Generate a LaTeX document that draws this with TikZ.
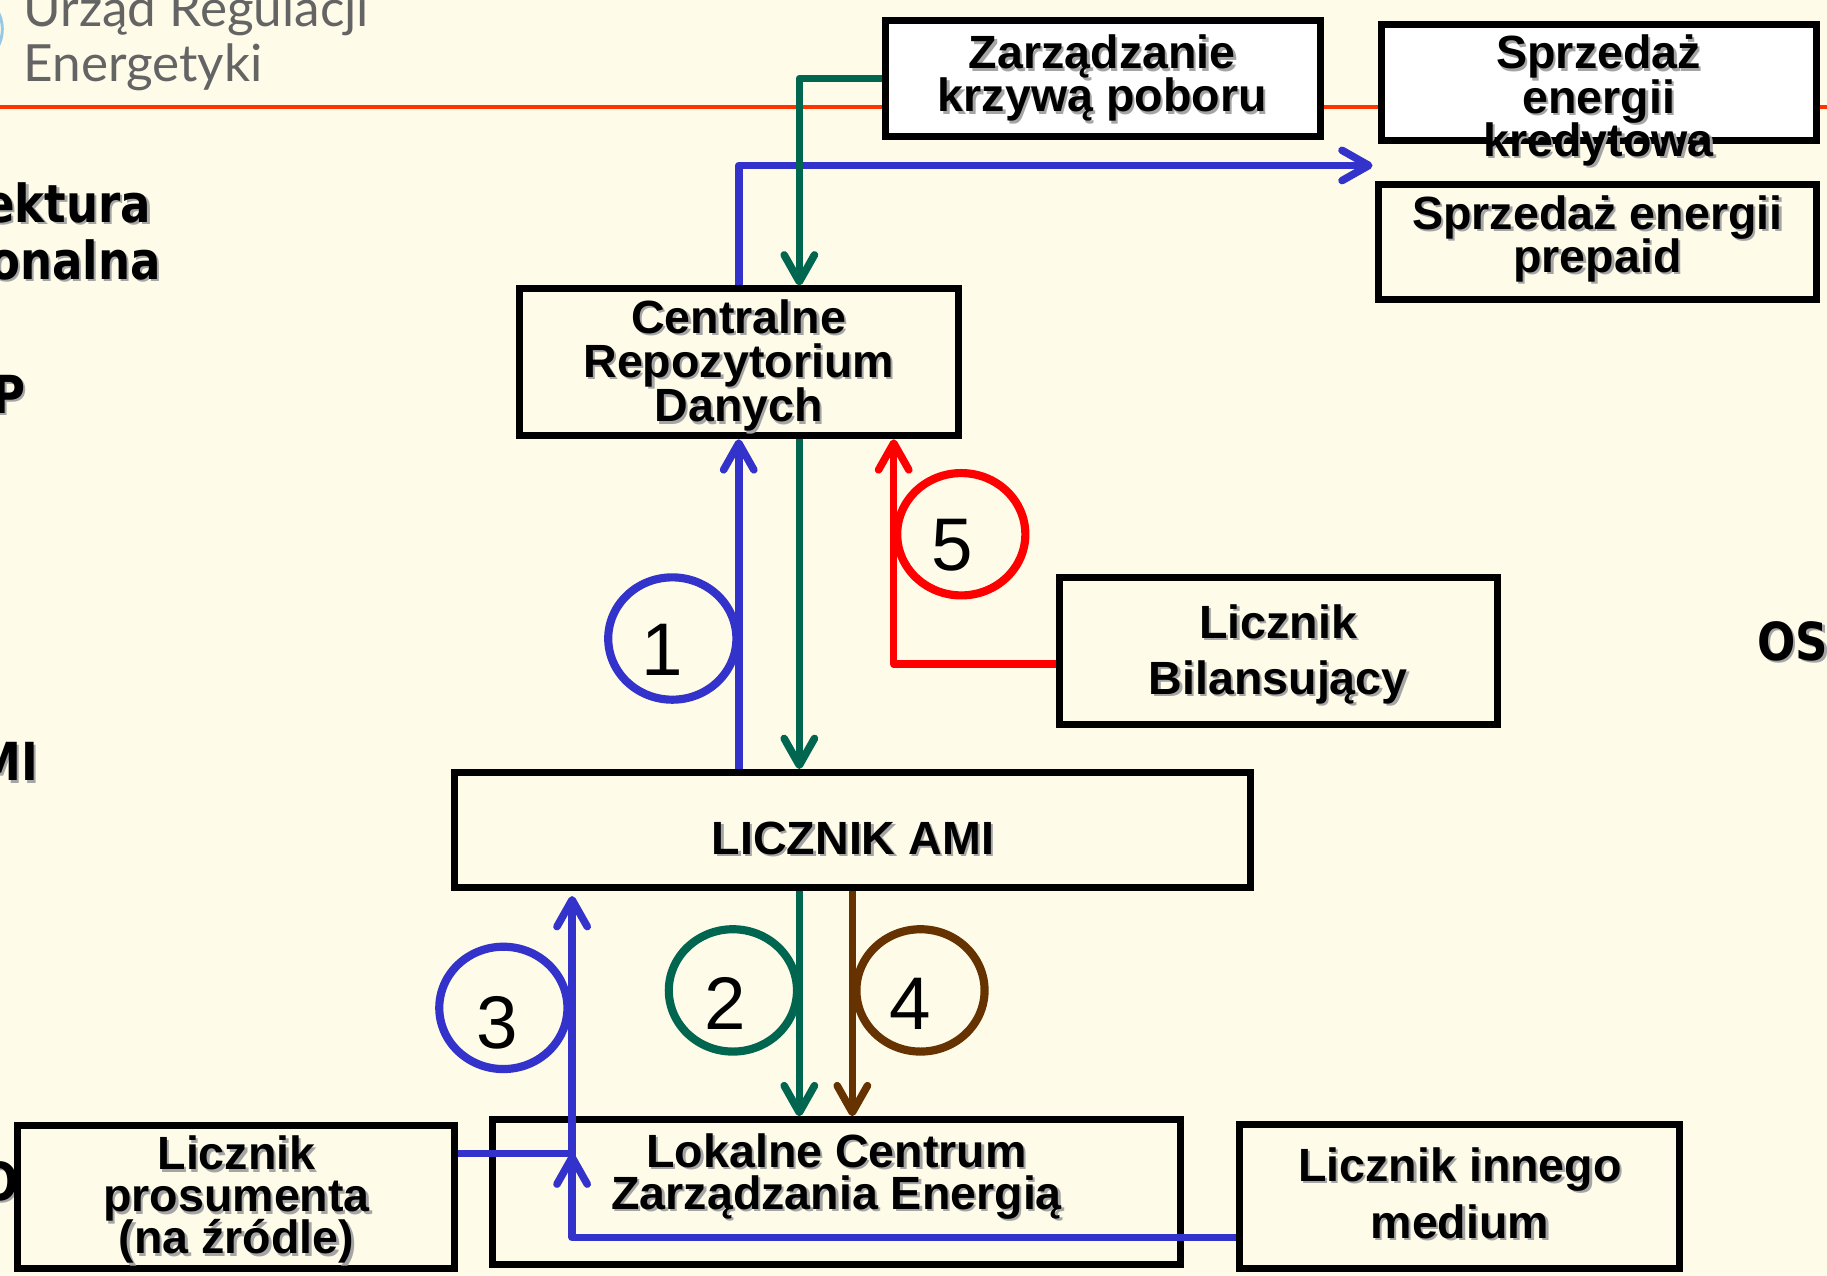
\documentclass[tikz,border=0pt]{standalone}
\usepackage{fontspec}
\setmainfont{Liberation Sans}
\newfontfamily\hdrfont{Lato}
\newfontfamily\fragfont[FakeStretch=0.86]{DejaVu Sans}
\usetikzlibrary{arrows.meta,shapes.geometric}

\definecolor{bg}{RGB}{254,251,232}
\definecolor{amiblue}{RGB}{51,51,204}
\definecolor{amigreen}{RGB}{0,102,80}
\definecolor{amibrown}{RGB}{102,51,0}
\definecolor{amired}{RGB}{255,0,0}
\definecolor{hdrred}{RGB}{255,51,0}
\definecolor{hdrgray}{RGB}{100,100,100}
\definecolor{shade}{RGB}{165,165,165}
\definecolor{logoblue}{RGB}{150,200,230}

% text with a soft grey drop shadow, kept inside one node
\newcommand\shd[1]{\makebox[0pt][l]{\kern2pt\raisebox{-2pt}{\textcolor{shade}{#1}}}#1}

\tikzset{
  box/.style={rectangle, draw=black, line width=6pt, fill=bg, inner sep=0pt},
  wbox/.style={box, fill=white},
  txt/.style={font={\bfseries\fontsize{40}{40}\selectfont}, inner sep=0pt, anchor=base},
  frag/.style={font={\fragfont\bfseries\fontsize{45}{45}\selectfont}, inner sep=0pt},
  hdr/.style={font={\hdrfont\fontsize{44}{44}\selectfont}, text=hdrgray, inner sep=0pt, anchor=base west},
  dig/.style={font={\fontsize{64}{64}\selectfont}, inner sep=0pt, anchor=center},
  numring/.style={ellipse, draw=#1, line width=7pt, minimum width=110pt, minimum height=105pt, inner sep=0pt},
  link/.style={line width=6.5pt, line join=round},
  conn/.style={link, -{Straight Barb[length=23pt,width=26pt,round]}},
}

\begin{document}
\begin{tikzpicture}[x=1pt, y=-1pt]
\useasboundingbox (0,0) rectangle (1568,1095);
\clip (0,0) rectangle (1568,1095);
\fill[bg] (0,0) rectangle (1568,1095);

% logo remnant and header
\draw[logoblue, line width=2.5pt] (-30,25) circle [radius=32];
\draw[hdrred, line width=3.5pt] (0,92) -- (1568,92);
\node[hdr] (hdr1) at (20,23) {Urząd Regulacji};
\node[hdr] (hdr2) at (20,70) {Energetyki};

% cut-off slide texts
\node[frag, anchor=base east] (f1) at (130,191) {\shd{ektura}};
\node[frag, anchor=base east] (f2) at (138,240) {\shd{onalna}};
\node[frag, anchor=base east] (f3) at (22,355) {\shd{P}};
\node[frag, anchor=base east] (f4) at (33,670) {\shd{MI}};
\node[frag, anchor=base west] (f5) at (1508,567) {\shd{OS}};
\node[frag, anchor=base east] (f6) at (16,1030) {\shd{O}};

% boxes
\node[wbox, minimum width=373pt, minimum height=99pt]  (zar)  at (946.5,67.5) {};
\node[wbox, minimum width=373pt, minimum height=100pt] (kred) at (1372.5,71) {};
\node[box,  minimum width=376pt, minimum height=99pt]  (prep) at (1371,207.5) {};
\node[box,  minimum width=377pt, minimum height=126pt] (crd)  at (634,311) {};
\node[box,  minimum width=376pt, minimum height=126pt] (bil)  at (1097,559) {};
\node[box,  minimum width=683pt, minimum height=99pt]  (ami)  at (731.5,712.5) {};
\node[box,  minimum width=590pt, minimum height=124pt] (lcze) at (718,1023) {};
\node[box,  minimum width=375pt, minimum height=123pt] (pros) at (202.5,1027.5) {};
\node[box,  minimum width=377pt, minimum height=124pt] (inn)  at (1252.5,1027) {};

% box texts
\node[txt] (zar1)  at (946,59)   {\shd{Zarządzanie}};
\node[txt] (zar2)  at (946,96)   {\shd{krzywą poboru}};
\node[txt] (kred1) at (1372,59)  {\shd{Sprzedaż}};
\node[txt] (kred2) at (1372,97)  {\shd{energii}};
\node[txt] (kred3) at (1372,134) {\shd{kredytowa}};
\node[txt] (prep1) at (1371,197) {\shd{Sprzedaż energii}};
\node[txt] (prep2) at (1371,234) {\shd{prepaid}};
\node[txt] (crd1)  at (634,286)  {\shd{Centralne}};
\node[txt] (crd2)  at (634,324)  {\shd{Repozytorium}};
\node[txt] (crd3)  at (634,362)  {\shd{Danych}};
\node[txt] (bil1)  at (1097,548) {\shd{Licznik}};
\node[txt] (bil2)  at (1097,596) {\shd{Bilansujący}};
\node[txt] (ami1)  at (732,733)  {\shd{LICZNIK AMI}};
\node[txt] (lcze1) at (718,1002) {\shd{Lokalne Centrum}};
\node[txt] (lcze2) at (718,1038) {\shd{Zarządzania Energią}};
\node[txt] (pros1) at (203,1004) {\shd{Licznik}};
\node[txt] (pros2) at (203,1040) {\shd{prosumenta}};
\node[txt] (pros3) at (203,1076) {\shd{(na źródle)}};
\node[txt] (inn1)  at (1253,1014) {\shd{Licznik innego}};
\node[txt] (inn2)  at (1253,1063) {\shd{medium}};

% connectors
\coordinate (bluetip) at (1178,142);
\draw[conn, amiblue] (crd.north) |- (bluetip);
\draw[conn, amigreen] (zar.west) -| ([xshift=52pt]crd.north);
\draw[conn, amiblue] (ami.north -| crd.south) -- (crd.south);
\coordinate (gx) at ([xshift=52pt]crd.south);
\draw[conn, amigreen] (gx) -- (gx |- ami.north);
\draw[conn, amired] ([yshift=-11pt]bil.west) -| ([xshift=133pt]crd.south);
\draw[conn, amigreen] (gx |- ami.south) -- (gx |- lcze.north);
\draw[conn, amibrown] (ami.south) -- (ami.south |- lcze.north);
\coordinate (b3top) at (491,769);
\draw[conn, amiblue] ([yshift=-35pt]inn.west) -| (b3top);
\coordinate (pj) at (491,990);
\draw[link, amiblue] ([yshift=37.5pt]pros.east) -- (pj);
\draw[conn, amiblue] ([yshift=-30pt]pj) -- (pj);

% numbered rings
\node[numring=amiblue]  (c1) at (577,548) {};
\node[numring=amigreen] (c2) at (629,850) {};
\node[numring=amiblue]  (c3) at (432,865) {};
\node[numring=amibrown] (c4) at (790,850) {};
\node[numring=amired]   (c5) at (825,458.5) {};
\node[dig] (d1) at (568,558) {1};
\node[dig] (d2) at (622,861.5) {2};
\node[dig] (d3) at (426.5,877.5) {3};
\node[dig] (d4) at (781,861.5) {4};
\node[dig] (d5) at (817.5,468) {5};
\end{tikzpicture}
\end{document}
